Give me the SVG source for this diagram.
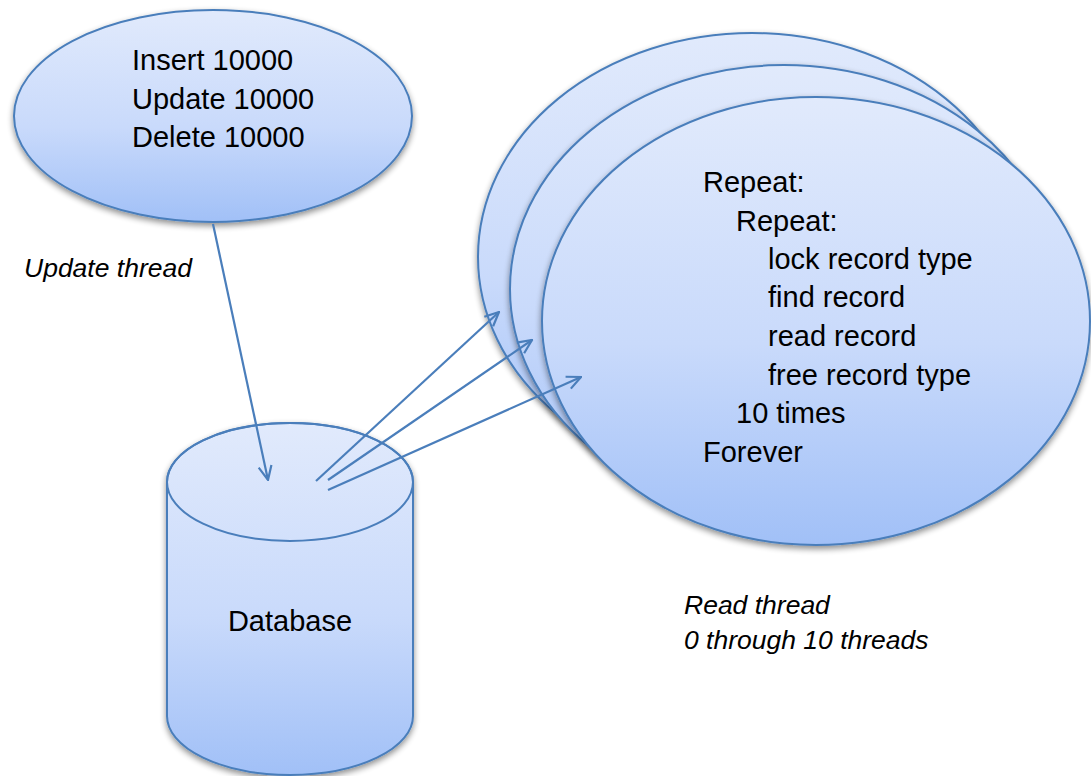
<svg xmlns="http://www.w3.org/2000/svg" width="1091" height="776" viewBox="0 0 1091 776">
  <defs>
    <linearGradient id="fillGrad" x1="0" y1="0" x2="0" y2="1">
      <stop offset="0" stop-color="#e1eafc"/>
      <stop offset="0.55" stop-color="#c9dafb"/>
      <stop offset="1" stop-color="#a1c0f7"/>
    </linearGradient>
    <filter id="shadow" x="-10%" y="-10%" width="120%" height="125%">
      <feGaussianBlur in="SourceAlpha" stdDeviation="3"/>
      <feOffset dx="0" dy="3" result="b"/>
      <feComponentTransfer><feFuncA type="linear" slope="0.45"/></feComponentTransfer>
      <feMerge><feMergeNode/><feMergeNode in="SourceGraphic"/></feMerge>
    </filter>
    <marker id="arrow" viewBox="0 0 16 16" refX="15" refY="8" markerWidth="16" markerHeight="16" markerUnits="userSpaceOnUse" orient="auto">
      <path d="M1,1.5 L15,8 L1,14.5" fill="none" stroke="#4a7ebb" stroke-width="2.2" stroke-linejoin="miter"/>
    </marker>
  </defs>
  <style>
    .shape { fill: url(#fillGrad); stroke: #4a7ebb; stroke-width: 2; filter: url(#shadow); }
    .outline { fill: none; stroke: #4a7ebb; stroke-width: 2; }
    .txt { font-family: "Liberation Sans", Arial, sans-serif; font-size: 29px; fill: #000; }
    .lbl { font-family: "Liberation Sans", Arial, sans-serif; font-size: 26.5px; font-style: italic; fill: #000; }
    .conn { stroke: #4a7ebb; stroke-width: 2.2; fill: none; marker-end: url(#arrow); }
  </style>

  <g id="update-node">
    <ellipse class="shape" cx="213" cy="116" rx="199" ry="106"/>
    <text class="txt" x="132" y="70">Insert 10000</text>
    <text class="txt" x="132" y="108.5">Update 10000</text>
    <text class="txt" x="132" y="147">Delete 10000</text>
  </g>

  <g id="read-node-back">
    <ellipse class="shape" cx="752" cy="257" rx="274" ry="224"/>
  </g>
  <g id="read-node-middle">
    <ellipse class="shape" cx="784" cy="289" rx="274" ry="224"/>
  </g>
  <g id="read-node-front">
    <ellipse class="shape" cx="816" cy="321" rx="274" ry="224"/>
    <text class="txt" x="703" y="192">Repeat:</text>
    <text class="txt" x="736" y="230.5">Repeat:</text>
    <text class="txt" x="768" y="269">lock record type</text>
    <text class="txt" x="768" y="307">find record</text>
    <text class="txt" x="768" y="345.5">read record</text>
    <text class="txt" x="768" y="384.5">free record type</text>
    <text class="txt" x="736" y="423">10 times</text>
    <text class="txt" x="703" y="462">Forever</text>
  </g>

  <g id="database">
    <path class="shape" d="M167,482 A123,59 0 0 1 413,482 L413,716 A123,59 0 0 1 167,716 Z"/>
    <ellipse class="outline" cx="290" cy="482" rx="123" ry="59"/>
    <text class="txt" x="290" y="631" text-anchor="middle">Database</text>
  </g>

  <g id="labels">
    <text class="lbl" x="24" y="277">Update thread</text>
    <text class="lbl" x="684" y="614">Read thread</text>
    <text class="lbl" x="684" y="649">0 through 10 threads</text>
  </g>

  <g id="connectors">
    <line class="conn" x1="213" y1="224" x2="268" y2="480"/>
    <line class="conn" x1="316" y1="481" x2="499" y2="312"/>
    <line class="conn" x1="328" y1="480" x2="532" y2="340"/>
    <line class="conn" x1="328" y1="490" x2="581" y2="377"/>
  </g>
</svg>
